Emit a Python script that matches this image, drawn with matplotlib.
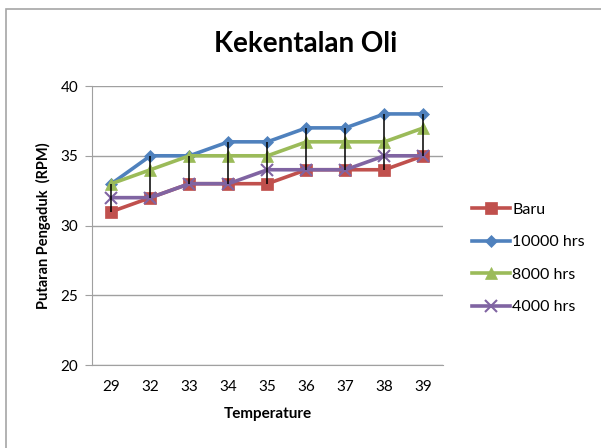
import matplotlib.pyplot as plt
from matplotlib.patches import Rectangle
import numpy as np

# === Data ===
temperature = ["29", "32", "33", "34", "35", "36", "37", "38", "39"]
baru = [31, 32, 33, 33, 33, 34, 34, 34, 35]
hrs_10000 = [33, 35, 35, 36, 36, 37, 37, 38, 38]
hrs_8000 = [33, 34, 35, 35, 35, 36, 36, 36, 37]
hrs_4000 = [32, 32, 33, 33, 34, 34, 34, 35, 35]

series = [
    ("Baru", baru, "#C0504D", "s", 9),
    ("10000 hrs", hrs_10000, "#4F81BD", "D", 6),
    ("8000 hrs", hrs_8000, "#9BBB59", "^", 9),
    ("4000 hrs", hrs_4000, "#8064A2", "x", 8),
]

plt.rcParams['font.family'] = ['Lato', 'DejaVu Sans']

fig = plt.figure(figsize=(6.01, 4.48), dpi=100)
fig.patches.append(Rectangle((0.010, -0.05), 1.2, 1.03, transform=fig.transFigure,
                             fill=False, edgecolor="#A6A6A6", linewidth=1.2))

ax = fig.add_axes([0.153, 0.185, 0.584, 0.623])
x = np.arange(len(temperature))

for nama, vals, warna, mk, ms in series:
    ax.plot(x, vals, color=warna, linewidth=2.6, marker=mk, markersize=ms,
            markeredgewidth=1.5 if mk == "x" else 0.5, markeredgecolor=warna,
            label=nama, zorder=3)

# === High-low lines ===
data = np.array([baru, hrs_10000, hrs_8000, hrs_4000])
ax.vlines(x, data.min(axis=0), data.max(axis=0), color="black", linewidth=1.1, zorder=4)

ax.set_xlim(-0.5, len(temperature) - 0.5)
ax.set_ylim(20, 40)
ax.set_yticks([20, 25, 30, 35, 40])
ax.set_xticks(x)
ax.set_xticklabels(temperature)
ax.yaxis.grid(True, color="#A0A0A0", linewidth=1)
ax.set_axisbelow(True)

for s in ["top", "right"]:
    ax.spines[s].set_visible(False)
ax.spines["left"].set_color("#A0A0A0")
ax.spines["bottom"].set_color("#A0A0A0")
ax.tick_params(axis="y", length=5, color="#A0A0A0", labelsize=11, pad=5)
ax.tick_params(axis="x", length=0, labelsize=11, pad=11)

ax.set_xlabel("Temperature", fontsize=11, fontweight="bold", labelpad=9)
ax.set_ylabel("Putaran Pengaduk  (RPM)", fontsize=10.5, fontweight="bold", labelpad=7)

fig.text(0.508, 0.902, "Kekentalan Oli", ha="center", va="center", fontsize=20,
         fontweight="bold")

fig.legend(loc="upper left", bbox_to_anchor=(0.775, 0.562), frameon=False,
           fontsize=11.5, handlelength=2.4, handletextpad=0.1, labelspacing=1.15,
           borderaxespad=0)

plt.savefig("out.png", dpi=100)
plt.close()
